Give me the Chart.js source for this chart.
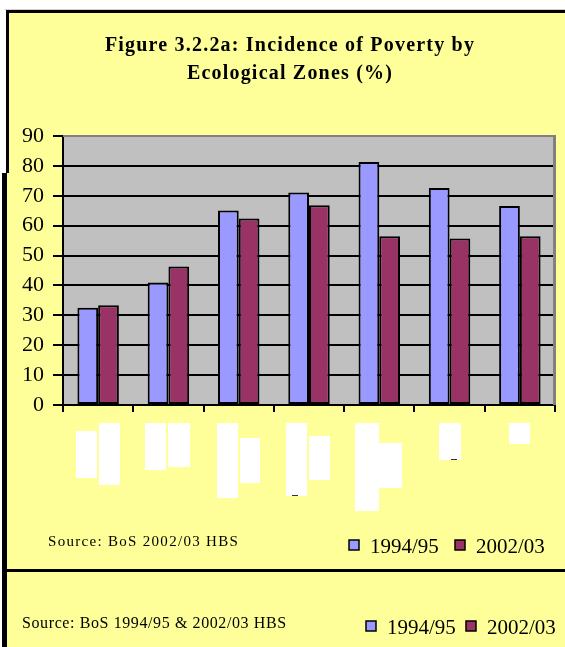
<!DOCTYPE html>
<html>
<head>
<meta charset="utf-8">
<script src="https://cdn.jsdelivr.net/npm/chart.js@4/dist/chart.umd.min.js"></script>
<style>
  html, body { margin: 0; padding: 0; background: #ffffff; }
  #wrap { width: 565px; height: 647px; position: relative; }
</style>
</head>
<body>
<div id="wrap"><canvas id="c" width="565" height="647"></canvas></div>
<script>
// ---- data ----
const categories = ['Zone 1', 'Zone 2', 'Zone 3', 'Zone 4', 'Zone 5', 'Zone 6', 'Zone 7']; // labels hidden in the reference
const seriesNames = ['1994/95', '2002/03'];
const values1994 = [32.5, 41.0, 65.1, 71.1, 81.3, 72.6, 66.6];
const values2002 = [33.4, 46.3, 62.4, 66.8, 56.5, 55.7, 56.5];
const yTicks = [0, 10, 20, 30, 40, 50, 60, 70, 80, 90];
const titleLines = ['Figure 3.2.2a: Incidence of Poverty by', 'Ecological Zones (%)'];
const sourceTop = 'Source: BoS 2002/03 HBS';
const sourceBottom = 'Source: BoS 1994/95 & 2002/03 HBS';

const colors = ['#9999FF', '#993366'];
const YELLOW = '#FFFF99';

const decorPlugin = {
  id: 'decor',
  beforeDraw(chart) {
    const ctx = chart.ctx, W = chart.width, H = chart.height;
    ctx.save();
    ctx.fillStyle = '#ffffff';
    ctx.fillRect(0, 0, W, H);
    // upper framed box
    ctx.fillStyle = YELLOW;
    ctx.fillRect(6, 10, W - 6, 560);
    ctx.fillStyle = '#d0d0d0';
    ctx.fillRect(5, 9, W - 5, 1);
    ctx.fillStyle = '#000';
    ctx.fillRect(6, 10, W - 6, 3);
    ctx.fillRect(6, 10, 3, 163);
    // lower overlapping box
    ctx.fillStyle = YELLOW;
    ctx.fillRect(4, 570, W - 4, H - 570);
    ctx.fillStyle = '#000';
    ctx.fillRect(2, 173, 5, H - 173);
    ctx.fillRect(2, 569, W - 2, 3);
    // plot area
    const a = chart.chartArea;
    ctx.fillStyle = '#C0C0C0';
    ctx.fillRect(a.left, a.top, a.right - a.left, a.bottom - a.top);
    // title
    ctx.fillStyle = '#000';
    ctx.font = 'bold 20px "Liberation Serif"';
    ctx.letterSpacing = '1.2px';
    ctx.textAlign = 'center';
    ctx.textBaseline = 'middle';
    ctx.fillText(titleLines[0], 290, 46);
    ctx.fillText(titleLines[1], 290, 74);
    ctx.restore();
  },
  afterDatasetsDraw(chart) {
    const ctx = chart.ctx, a = chart.chartArea;
    ctx.save();
    ctx.fillStyle = '#808080';
    ctx.fillRect(a.left, a.top - 1, a.right - a.left, 2);
    ctx.fillRect(a.right - 2, a.top - 1, 3, a.bottom - a.top + 1);
    ctx.restore();
  },
  afterDraw(chart) {
    const ctx = chart.ctx;
    ctx.save();
    // blanked-out category label boxes
    const boxes = [
      [76, 431, 21, 47], [99, 423, 21, 62],
      [145, 423, 21, 47], [168, 423, 22, 44],
      [217, 423, 21, 75], [240, 438, 20, 45],
      [286, 423, 21, 73], [309, 436, 21, 44],
      [355, 423, 24, 88], [379, 443, 23, 45],
      [439, 423, 22, 37], [509, 423, 21, 21]
    ];
    ctx.fillStyle = '#ffffff';
    boxes.forEach(b => ctx.fillRect(b[0], b[1], b[2], b[3]));
    ctx.fillStyle = '#333';
    ctx.fillRect(292, 495, 6, 1);
    ctx.fillRect(451, 459, 6, 1);

    // source texts
    ctx.fillStyle = '#000';
    ctx.textAlign = 'left';
    ctx.textBaseline = 'alphabetic';
    ctx.font = '15px "Liberation Serif"';
    ctx.letterSpacing = '1.3px';
    ctx.fillText(sourceTop, 48, 546);
    ctx.font = '16px "Liberation Serif"';
    ctx.letterSpacing = '0.6px';
    ctx.fillText(sourceBottom, 22, 628);
    ctx.letterSpacing = '0px';

    // legends
    const drawLegend = (xs, baseline, sq) => {
      ctx.font = '21px "Liberation Serif"';
      seriesNames.forEach((name, i) => {
        const x = xs[i];
        const y = baseline - 7 - sq / 2 - 1;
        ctx.fillStyle = colors[i];
        ctx.fillRect(x, y, sq, sq);
        ctx.strokeStyle = '#000';
        ctx.lineWidth = 1.5;
        ctx.strokeRect(x, y, sq, sq);
        ctx.fillStyle = '#000';
        ctx.fillText(name, x + sq + 11, baseline);
      });
    };
    drawLegend([349, 455], 553, 10);
    drawLegend([366, 466], 634, 10);
    ctx.restore();
  }
};

new Chart(document.getElementById('c'), {
  type: 'bar',
  data: {
    labels: categories,
    datasets: [
      { label: seriesNames[0], data: values1994, backgroundColor: colors[0], borderColor: '#000', borderWidth: 2, borderSkipped: false },
      { label: seriesNames[1], data: values2002, backgroundColor: colors[1], borderColor: '#000', borderWidth: 2, borderSkipped: false }
    ]
  },
  options: {
    responsive: false,
    animation: false,
    layout: { padding: { top: 136, left: 0, right: 10, bottom: 235 } },
    datasets: { bar: { categoryPercentage: 0.59, barPercentage: 1.0 } },
    plugins: {
      legend: { display: false },
      title: { display: false },
      tooltip: { enabled: false }
    },
    scales: {
      x: {
        offset: true,
        afterFit(s) { s.height = 7; },
        ticks: { display: false },
        grid: { offset: true, drawOnChartArea: false, drawTicks: true, tickLength: 7, color: '#000', lineWidth: 2 },
        border: { display: true, color: '#000', width: 2 }
      },
      y: {
        min: 0, max: 90,
        afterFit(s) { s.width = 63; },
        afterBuildTicks(s) { s.ticks = yTicks.map(v => ({ value: v })); },
        ticks: {
          font: { family: 'Liberation Serif', size: 22 },
          color: '#000',
          padding: 9
        },
        grid: {
          color: (c) => (c.tick && c.tick.value === 90 ? 'rgba(0,0,0,0)' : '#000'),
          tickColor: '#000',
          lineWidth: 2,
          tickLength: 10
        },
        border: { display: true, color: '#000', width: 2 }
      }
    }
  },
  plugins: [decorPlugin]
});
</script>
</body>
</html>
